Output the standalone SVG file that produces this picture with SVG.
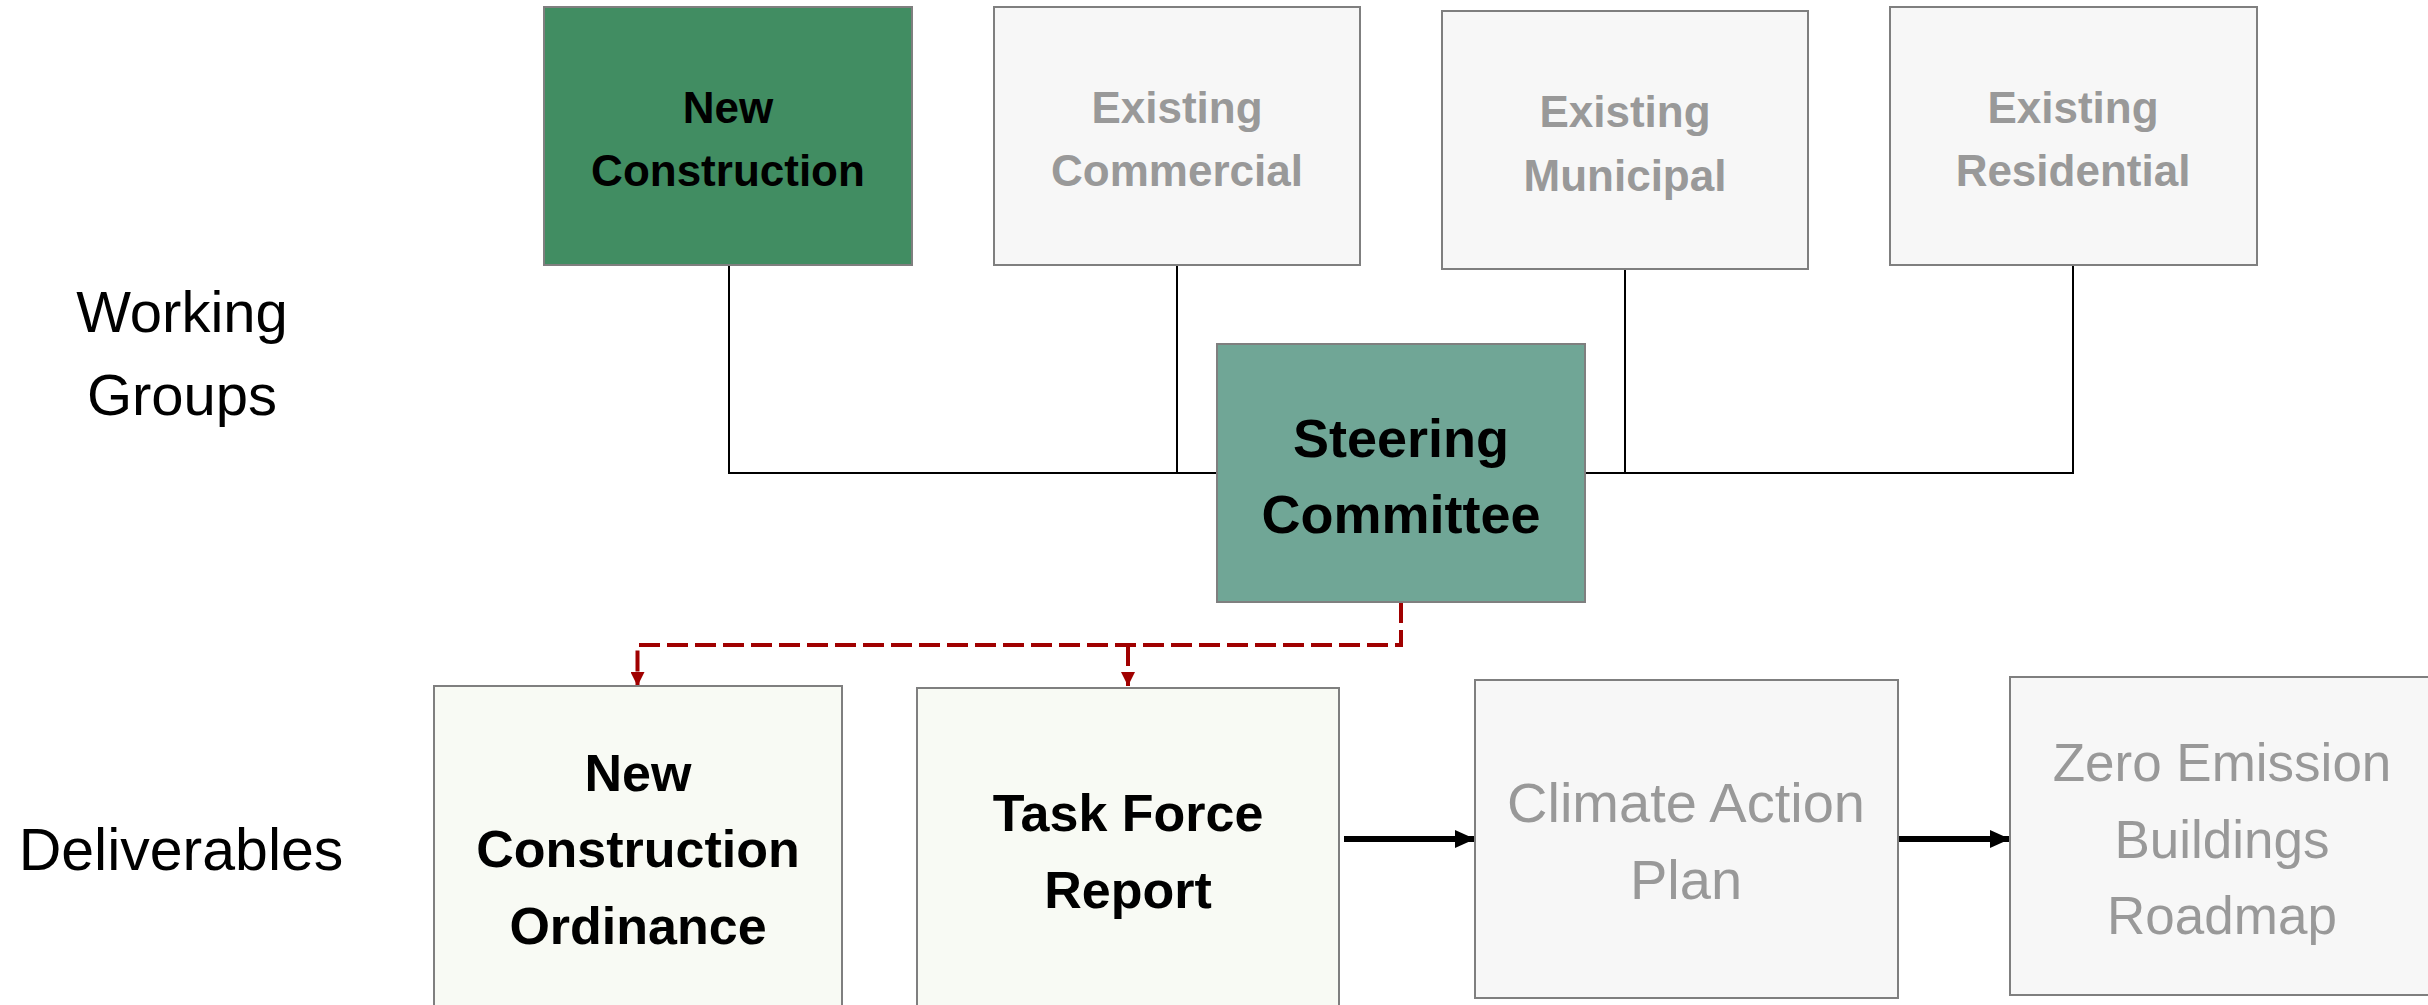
<svg xmlns="http://www.w3.org/2000/svg" width="2428" height="1005" viewBox="0 0 2428 1005">
<style>
.box{stroke:#7f7f7f;stroke-width:2}
.wg{fill:#f7f7f7}
.nc{fill:#418d62}
.sc{fill:#70a696}
.dl{fill:#f8faf4}
.b{font-family:"Liberation Sans",Arial,sans-serif;font-weight:bold;text-anchor:middle}
.r{font-family:"Liberation Sans",Arial,sans-serif;text-anchor:middle}
.k{fill:#000}
.g{fill:#999999}
.ln{fill:none;stroke:#000;stroke-width:2}
.rd{fill:none;stroke:#a00000;stroke-width:4;stroke-dasharray:21 7}
.ar{fill:none;stroke:#000;stroke-width:6}
</style>
<defs>
<marker id="redHead" markerUnits="userSpaceOnUse" markerWidth="14" markerHeight="14" refX="14" refY="7" orient="auto" viewBox="0 0 14 14">
<path d="M0 0 L14 7 L0 14 Z" fill="#a00000"/>
</marker>
<marker id="blkHead" markerUnits="userSpaceOnUse" markerWidth="20" markerHeight="18" refX="20" refY="9" orient="auto" viewBox="0 0 20 18">
<path d="M0 0 L20 9 L0 18 Z" fill="#000"/>
</marker>
</defs>

<g id="labels">
<text class="r k" x="182" y="332" font-size="58">Working</text>
<text class="r k" x="182" y="415" font-size="58">Groups</text>
<text class="r k" x="181" y="870" font-size="59">Deliverables</text>
</g>

<g id="connectors">
<path class="ln" d="M729 265 V473 H1217"/>
<path class="ln" d="M1177 265 V473"/>
<path class="ln" d="M1625 269 V473"/>
<path class="ln" d="M1585 473 H2073 V265"/>
<path class="rd" d="M1401 602 V645 H637.5 V686" marker-end="url(#redHead)"/>
<path class="rd" d="M1128 645 V686" marker-end="url(#redHead)"/>
<path class="ar" d="M1344 839 H1475" marker-end="url(#blkHead)"/>
<path class="ar" d="M1898 839 H2010" marker-end="url(#blkHead)"/>
</g>

<g id="new-construction">
<rect class="box nc" x="544" y="7" width="368" height="258"/>
<text class="b k" x="728" y="123" font-size="44">New</text>
<text class="b k" x="728" y="186" font-size="44">Construction</text>
</g>

<g id="existing-commercial">
<rect class="box wg" x="994" y="7" width="366" height="258"/>
<text class="b g" x="1177" y="123" font-size="44">Existing</text>
<text class="b g" x="1177" y="186" font-size="44">Commercial</text>
</g>

<g id="existing-municipal">
<rect class="box wg" x="1442" y="11" width="366" height="258"/>
<text class="b g" x="1625" y="127" font-size="44">Existing</text>
<text class="b g" x="1625" y="191" font-size="44">Municipal</text>
</g>

<g id="existing-residential">
<rect class="box wg" x="1890" y="7" width="367" height="258"/>
<text class="b g" x="2073" y="123" font-size="44">Existing</text>
<text class="b g" x="2073" y="186" font-size="44">Residential</text>
</g>

<g id="steering-committee">
<rect class="box sc" x="1217" y="344" width="368" height="258"/>
<text class="b k" x="1401" y="457" font-size="54">Steering</text>
<text class="b k" x="1401" y="533" font-size="54">Committee</text>
</g>

<g id="new-construction-ordinance">
<rect class="box dl" x="434" y="686" width="408" height="330"/>
<text class="b k" x="638" y="791" font-size="52">New</text>
<text class="b k" x="638" y="867" font-size="52">Construction</text>
<text class="b k" x="638" y="944" font-size="52">Ordinance</text>
</g>

<g id="task-force-report">
<rect class="box dl" x="917" y="688" width="422" height="330"/>
<text class="b k" x="1128" y="831" font-size="52">Task Force</text>
<text class="b k" x="1128" y="908" font-size="52">Report</text>
</g>

<g id="climate-action-plan">
<rect class="box wg" x="1475" y="680" width="423" height="318"/>
<text class="r g" x="1686" y="822" font-size="56">Climate Action</text>
<text class="r g" x="1686" y="899" font-size="56">Plan</text>
</g>

<g id="zero-emission-roadmap">
<rect class="box wg" x="2010" y="677" width="430" height="318"/>
<text class="r g" x="2222" y="781" font-size="53">Zero Emission</text>
<text class="r g" x="2222" y="858" font-size="53">Buildings</text>
<text class="r g" x="2222" y="934" font-size="53">Roadmap</text>
</g>
</svg>
